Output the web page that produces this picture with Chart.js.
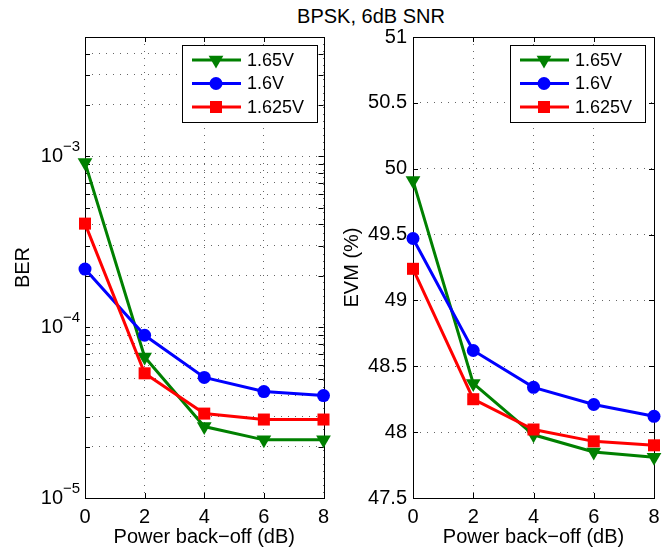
<!DOCTYPE html>
<html>
<head>
<meta charset="utf-8">
<script src="https://cdn.jsdelivr.net/npm/chart.js@4/dist/chart.umd.min.js"></script>
<style>
body{margin:0;background:#fff;width:665px;height:552px;position:relative;overflow:hidden;font-family:"Liberation Sans",Arial,sans-serif}
#title{position:absolute;left:271px;width:200px;top:5px;text-align:center;font-size:20px;line-height:22px;color:#000}
canvas{position:absolute;top:0}
#c1{left:0}
#c2{left:332px}
</style>
</head>
<body>
<div id="title">BPSK, 6dB SNR</div>
<canvas id="c1" width="332" height="552"></canvas>
<canvas id="c2" width="333" height="552"></canvas>
<script>
// x axis: power back-off (dB)
var backoff = [0, 2, 4, 6, 8];
var seriesNames = ['1.65V', '1.6V', '1.625V'];

// BER, left panel
var ber165 = [9.2e-4, 6.7e-5, 2.62e-5, 2.19e-5, 2.19e-5];
var ber160 = [2.19e-4, 8.97e-5, 5.08e-5, 4.2e-5, 3.98e-5];
var ber1625 = [4.04e-4, 5.37e-5, 3.12e-5, 2.88e-5, 2.88e-5];

// EVM (%), right panel
var evm165 = [49.91, 48.37, 47.98, 47.85, 47.81];
var evm160 = [49.47, 48.62, 48.34, 48.21, 48.12];
var evm1625 = [49.24, 48.25, 48.02, 47.93, 47.90];

// log ticks: label is "10" with the exponent written as superscript
var berMajor = [1e-5, 1e-4, 1e-3];
var berExponents = ['\u22125', '\u22124', '\u22123'];
var evmTicks = [47.5, 48, 48.5, 49, 49.5, 50, 50.5, 51];
var xTicks = [0, 2, 4, 6, 8];

var FONT = '"Liberation Sans", Arial, sans-serif';
var GRID = 'rgba(0,0,0,0.6)';
var colors = ['#008000', '#0000ff', '#ff0000'];
var styles = [
  { pointStyle: 'triangle', rotation: 180, radius: 8.5 },
  { pointStyle: 'circle', rotation: 0, radius: 6.5 },
  { pointStyle: 'rect', rotation: 0, radius: 8.5 }
];

function pts(ys) {
  return backoff.map(function(x, i) { return { x: x, y: ys[i] }; });
}

function majorIndex(v) {
  for (var i = 0; i < berMajor.length; i++) {
    if (Math.abs(v / berMajor[i] - 1) < 1e-6) return i;
  }
  return -1;
}

function makeSets(list) {
  return list.map(function(ys, i) {
    return {
      label: seriesNames[i],
      data: pts(ys),
      borderColor: colors[i],
      backgroundColor: colors[i],
      borderWidth: 3,
      pointStyle: styles[i].pointStyle,
      rotation: styles[i].rotation,
      pointRadius: styles[i].radius,
      pointBorderWidth: 0,
      pointBackgroundColor: colors[i],
      tension: 0,
      clip: false,
      order: 3 - i
    };
  });
}

// axes box + inward tick marks, drawn under the data like MATLAB
var framePlugin = {
  id: 'frame',
  beforeDatasetsDraw: function(chart) {
    var a = chart.chartArea, ctx = chart.ctx;
    var xs = chart.scales.x, ys = chart.scales.y;
    ctx.save();
    ctx.strokeStyle = '#000';
    ctx.lineWidth = 1;
    ctx.beginPath();
    xs.ticks.forEach(function(t) {
      var px = Math.round(xs.getPixelForValue(t.value)) + 0.5;
      ctx.moveTo(px, a.bottom); ctx.lineTo(px, a.bottom - 5);
      ctx.moveTo(px, a.top); ctx.lineTo(px, a.top + 5);
    });
    ys.ticks.forEach(function(t) {
      var py = Math.round(ys.getPixelForValue(t.value)) + 0.5;
      ctx.moveTo(a.left, py); ctx.lineTo(a.left + 5, py);
      ctx.moveTo(a.right, py); ctx.lineTo(a.right - 5, py);
    });
    ctx.stroke();
    ctx.strokeRect(Math.round(a.left) + 0.5, Math.round(a.top) + 0.5,
      Math.round(a.right - a.left), Math.round(a.bottom - a.top));
    ctx.restore();
  }
};

// superscript exponents next to the "10" tick labels of the log axis
var expPlugin = {
  id: 'exps',
  afterDraw: function(chart) {
    var ys = chart.scales.y;
    if (ys.type !== 'logarithmic') return;
    var ctx = chart.ctx, a = chart.chartArea;
    ctx.save();
    ctx.fillStyle = '#000';
    ctx.font = '15px ' + FONT;
    ctx.textAlign = 'right';
    ctx.textBaseline = 'alphabetic';
    berMajor.forEach(function(m, i) {
      var py = ys.getPixelForValue(m);
      ctx.fillText(berExponents[i], a.left - 5, py - 5);
    });
    ctx.restore();
  }
};

// MATLAB style legend: line segment with marker in the middle
var legendPlugin = {
  id: 'mlegend',
  afterDatasetsDraw: function(chart, args, opts) {
    var ctx = chart.ctx;
    var bx = opts.x, by = opts.y, bw = 135, bh = 77;
    ctx.save();
    ctx.fillStyle = '#fff';
    ctx.fillRect(bx, by, bw, bh);
    ctx.strokeStyle = '#000';
    ctx.lineWidth = 1;
    ctx.strokeRect(bx + 0.5, by + 0.5, bw, bh);
    chart.data.datasets.forEach(function(ds, i) {
      var yy = by + 15 + i * 23.5;
      ctx.strokeStyle = ds.borderColor;
      ctx.lineWidth = 3;
      ctx.beginPath();
      ctx.moveTo(bx + 10, yy); ctx.lineTo(bx + 59, yy);
      ctx.stroke();
      ctx.fillStyle = ds.borderColor;
      Chart.helpers.drawPoint(ctx, {
        pointStyle: ds.pointStyle, rotation: ds.rotation,
        radius: ds.pointRadius, borderWidth: 0
      }, bx + 34, yy);
      ctx.fillStyle = '#000';
      ctx.font = '18px ' + FONT;
      ctx.textBaseline = 'middle';
      ctx.textAlign = 'left';
      ctx.fillText(ds.label, bx + 65, yy + 1);
    });
    ctx.restore();
  }
};

function xScale() {
  return {
    type: 'linear', min: 0, max: 8,
    afterBuildTicks: function(s) { s.ticks = xTicks.map(function(v) { return { value: v }; }); },
    afterFit: function(s) { s.height = 54; s.paddingLeft = 0; s.paddingRight = 0; },
    grid: { color: GRID, lineWidth: 1, drawTicks: false },
    border: { display: false, dash: [1, 6] },
    ticks: { color: '#000', padding: 7, font: { family: FONT, size: 20 }, maxRotation: 0 },
    title: { display: true, text: 'Power back\u2212off (dB)', color: '#000',
      font: { family: FONT, size: 20 }, padding: { top: 0, bottom: 3 } }
  };
}

function baseOptions(yScale, legendX, padRight) {
  return {
    responsive: false, animation: false, devicePixelRatio: 1,
    layout: { padding: { top: 37, right: padRight, bottom: 0, left: 0 } },
    plugins: { legend: { display: false }, tooltip: { enabled: false },
      mlegend: { x: legendX, y: 45 } },
    scales: { x: xScale(), y: yScale }
  };
}

var berScale = {
  type: 'logarithmic', min: 1e-5, max: 5e-3,
  afterBuildTicks: function(s) {
    var t = [];
    berMajor.forEach(function(m) {
      for (var k = 1; k <= 9; k++) {
        var v = m * k;
        if (v <= 5.0001e-3) t.push({ value: v });
      }
    });
    s.ticks = t;
  },
  afterFit: function(s) { s.width = 85; s.paddingTop = 0; s.paddingBottom = 0; },
  grid: { color: GRID, lineWidth: 1, drawTicks: false },
  border: { display: false, dash: [1, 6] },
  ticks: {
    color: '#000', padding: 22, autoSkip: false, font: { family: FONT, size: 20 },
    callback: function(v) { return majorIndex(v) >= 0 ? '10' : ''; }
  },
  title: { display: true, text: 'BER', color: '#000', font: { family: FONT, size: 20 },
    padding: { top: 11, bottom: 0 } }
};

var evmScale = {
  type: 'linear', min: 47.5, max: 51,
  afterBuildTicks: function(s) { s.ticks = evmTicks.map(function(v) { return { value: v }; }); },
  ticks: { color: '#000', padding: 6, autoSkip: false, font: { family: FONT, size: 20 },
    callback: function(v) { return String(v); } },
  afterFit: function(s) { s.width = 81; s.paddingTop = 0; s.paddingBottom = 0; },
  grid: { color: GRID, lineWidth: 1, drawTicks: false },
  border: { display: false, dash: [1, 6] },
  title: { display: true, text: 'EVM (%)', color: '#000', font: { family: FONT, size: 20 },
    padding: { top: 8, bottom: 0 } }
};

new Chart(document.getElementById('c1'), {
  type: 'line',
  data: { datasets: makeSets([ber165, ber160, ber1625]) },
  options: baseOptions(berScale, 182, 7),
  plugins: [framePlugin, legendPlugin, expPlugin]
});

new Chart(document.getElementById('c2'), {
  type: 'line',
  data: { datasets: makeSets([evm165, evm160, evm1625]) },
  options: baseOptions(evmScale, 178, 11),
  plugins: [framePlugin, legendPlugin, expPlugin]
});
</script>
</body>
</html>
